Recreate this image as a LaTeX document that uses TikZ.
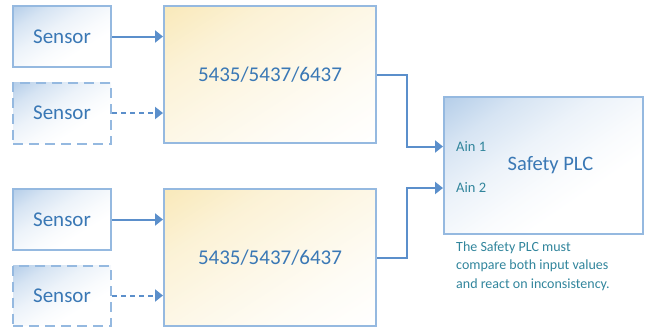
\documentclass[tikz,border=0pt]{standalone}
\usepackage{fontspec}
\setmainfont{Carlito}
\usetikzlibrary{arrows.meta,calc,backgrounds}
\definecolor{bordc}{HTML}{95B9E0}
\definecolor{arrc}{HTML}{5B8FCB}
\definecolor{txtc}{HTML}{3A78B5}
\definecolor{tealc}{HTML}{31859C}
\definecolor{yelc}{HTML}{F9E9BA}
\definecolor{bluec}{HTML}{B5CEE9}
\pgfdeclarehorizontalshading{bluediag}{100bp}{color(0bp)=(bluec); color(14.6bp)=(bluec); color(28bp)=(bluec!55!white); color(42bp)=(bluec!25!white); color(55bp)=(bluec!8!white); color(65bp)=(white); color(100bp)=(white)}
\pgfdeclarehorizontalshading{yeldiag}{100bp}{color(0bp)=(yelc); color(14.6bp)=(yelc); color(32bp)=(yelc!60!white); color(50bp)=(yelc!35!white); color(68bp)=(yelc!14!white); color(85.4bp)=(white); color(100bp)=(white)}
\newcommand\mygradfill[4]{%
  \shade[shading=#1, shading angle=-45,
    transform canvas={shift={(#2.center)}, xscale=#3/100, yscale=#4/100}]
    (-50pt,-50pt) rectangle (50pt,50pt);}
\tikzset{
  sensorbox/.style={draw=bordc, line width=2pt, minimum width=98pt, minimum height=61pt,
    text=txtc, font=\fontsize{21}{24}\selectfont, inner sep=0pt},
  dsensorbox/.style={sensorbox, dash pattern=on 10pt off 6pt},
  convbox/.style={draw=bordc, line width=2pt, minimum width=212pt, minimum height=137pt,
    text=txtc, font=\fontsize{21}{24}\selectfont, inner sep=0pt},
  plcbox/.style={draw=bordc, line width=2pt, minimum width=199pt, minimum height=137pt,
    text=txtc, font=\fontsize{20.5}{24}\selectfont, inner sep=0pt},
  conn/.style={draw=arrc, line width=2pt, -{Triangle[length=8pt,width=12pt]}},
  dconn/.style={conn, dash pattern=on 5pt off 4pt},
  ainlbl/.style={text=tealc, font=\fontsize{14.5}{17}\selectfont, anchor=west, inner sep=0pt},
}
\begin{document}
\begin{tikzpicture}[x=1pt,y=-1pt]
\useasboundingbox (0,0) rectangle (645,327);
\node[sensorbox] (s1) at (62,36.5) {Sensor};
\node[dsensorbox] (s2) at (62,113) {Sensor};
\node[sensorbox] (s3) at (62,219.5) {Sensor};
\node[dsensorbox, minimum height=60pt] (s4) at (62,295.5) {Sensor};
\node[convbox] (b1) at (270,74.5) {5435/5437/6437};
\node[convbox] (b2) at (270,257.5) {5435/5437/6437};
\node[plcbox] (plc) at (543.5,165.5) {\hspace*{14pt}Safety PLC};
\node[ainlbl] (a1) at (456,146.5) {Ain 1};
\node[ainlbl] (a2) at (456,188) {Ain 2};
\node[text=tealc, font=\fontsize{14}{18.5}\selectfont, anchor=north west, inner sep=0pt,
  align=left] (note) at (456,241.5) {The Safety PLC must\\compare both input values\\and react on inconsistency.};
\begin{scope}[on background layer]
\mygradfill{bluediag}{s1}{98}{61}
\mygradfill{bluediag}{s2}{98}{61}
\mygradfill{bluediag}{s3}{98}{61}
\mygradfill{bluediag}{s4}{98}{60}
\mygradfill{yeldiag}{b1}{212}{137}
\mygradfill{yeldiag}{b2}{212}{137}
\mygradfill{bluediag}{plc}{199}{137}
\end{scope}
\coordinate (j1) at (407,0);
\draw[conn] (s1.east) -- (s1.east -| b1.west);
\draw[dconn] (s2.east) -- (s2.east -| b1.west);
\draw[conn] (s3.east) -- (s3.east -| b2.west);
\draw[dconn] (s4.east) -- (s4.east -| b2.west);
\draw[conn] (b1.east) -- (b1.east -| j1) |- (plc.west |- a1);
\draw[conn] (b2.east) -- (b2.east -| j1) |- (plc.west |- a2);
\end{tikzpicture}
\end{document}
